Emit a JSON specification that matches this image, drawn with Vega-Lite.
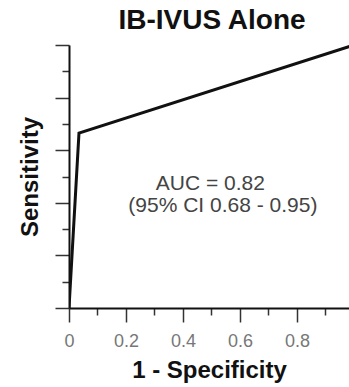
{
  "$schema": "https://vega.github.io/schema/vega-lite/v6.json",
  "autosize": {"type": "none"},
  "padding": {"left": 69, "top": 45, "right": 0, "bottom": 79},
  "width": 280,
  "height": 263,
  "background": "white",
  "title": {
    "text": "IB-IVUS Alone",
    "font": "Liberation Sans",
    "fontSize": 28,
    "fontWeight": "bold",
    "color": "#111",
    "baseline": "alphabetic",
    "offset": -15,
    "anchor": "middle",
    "dx": 3
  },
  "config": {
    "view": {"stroke": null},
    "font": "Liberation Sans"
  },
  "datasets": {
    "roc": [
      {"fpr": 0, "tpr": 0},
      {"fpr": 0.035, "tpr": 0.665},
      {"fpr": 1, "tpr": 1}
    ],
    "notes": [
      {"x": 0.496, "y": 0.449, "label": "AUC = 0.82"},
      {"x": 0.54, "y": 0.365, "label": "(95% CI  0.68 - 0.95)"}
    ]
  },
  "resolve": {"axis": {"x": "independent", "y": "independent"}},
  "layer": [
    {
      "data": {"name": "roc"},
      "mark": {"type": "point", "opacity": 0},
      "encoding": {
        "x": {
          "field": "fpr",
          "type": "quantitative",
          "scale": {"domain": [0, 0.9825], "nice": false, "zero": false},
          "axis": {
            "orient": "bottom",
            "offset": 0,
            "title": null,
            "values": [0.1, 0.3, 0.5, 0.7, 0.9],
            "labels": false,
            "domain": false,
            "grid": false,
            "tickColor": "#333",
            "tickWidth": 1.5,
            "tickSize": 7
          }
        },
        "y": {
          "field": "tpr",
          "type": "quantitative",
          "scale": {"domain": [0, 1], "nice": false},
          "axis": {
            "orient": "left",
            "offset": 0,
            "title": null,
            "values": [0.1, 0.3, 0.5, 0.7, 0.9],
            "labels": false,
            "domain": false,
            "grid": false,
            "tickColor": "#333",
            "tickWidth": 1.5,
            "tickSize": 7
          }
        }
      }
    },
    {
      "mark": {"type": "rule", "color": "#111", "strokeWidth": 2},
      "encoding": {"y": {"datum": 1, "type": "quantitative", "axis": null}}
    },
    {
      "data": {"name": "roc"},
      "mark": {"type": "line", "color": "#111", "strokeWidth": 3, "clip": true},
      "encoding": {
        "x": {
          "field": "fpr",
          "type": "quantitative",
          "axis": {
            "orient": "bottom",
            "offset": 0,
            "title": "1 - Specificity",
            "titleFontSize": 24,
            "titleFontWeight": "bold",
            "titleColor": "#111",
            "titlePadding": 8,
            "values": [0, 0.2, 0.4, 0.6, 0.8],
            "format": "~g",
            "labelFontSize": 18,
            "labelColor": "#777",
            "labelPadding": 10,
            "labelFlush": false,
            "grid": false,
            "domainColor": "#111",
            "domainWidth": 2,
            "tickColor": "#333",
            "tickWidth": 1.5,
            "tickSize": 14
          }
        },
        "y": {
          "field": "tpr",
          "type": "quantitative",
          "axis": {
            "orient": "left",
            "offset": 0,
            "title": "Sensitivity",
            "titleFontSize": 24,
            "titleFontWeight": "bold",
            "titleColor": "#111",
            "titlePadding": 12,
            "values": [0, 0.2, 0.4, 0.6, 0.8, 1],
            "labels": false,
            "grid": false,
            "domainColor": "#111",
            "domainWidth": 2,
            "tickColor": "#333",
            "tickWidth": 1.5,
            "tickSize": 14
          }
        }
      }
    },
    {
      "data": {"name": "notes"},
      "mark": {"type": "text", "fontSize": 21, "color": "#444", "align": "center", "baseline": "alphabetic"},
      "encoding": {
        "x": {"field": "x", "type": "quantitative", "axis": null},
        "y": {"field": "y", "type": "quantitative", "axis": null},
        "text": {"field": "label"}
      }
    }
  ]
}
